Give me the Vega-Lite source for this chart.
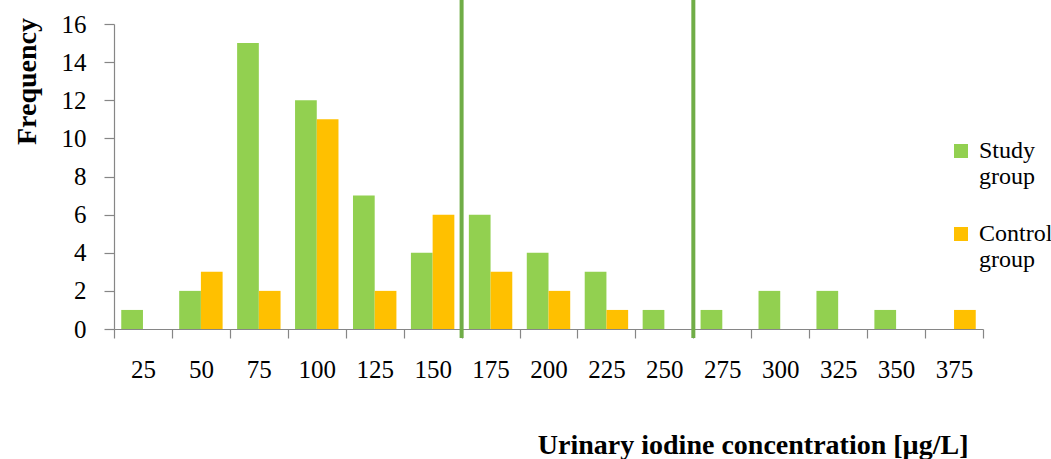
{
  "$schema": "https://vega.github.io/schema/vega-lite/v6.json",
  "width": 869,
  "height": 305,
  "autosize": {"type": "none"},
  "padding": {"left": 114, "top": 24, "right": 68, "bottom": 130},
  "config": {
    "view": {"stroke": null},
    "font": "Liberation Serif",
    "style": {
      "guide-label": {"font": "Liberation Serif", "fill": "#000000"},
      "guide-title": {"font": "Liberation Serif", "fill": "#000000"}
    },
    "axis": {
      "grid": false,
      "domainColor": "#868686",
      "tickColor": "#868686",
      "domainWidth": 1.2,
      "tickWidth": 1.2,
      "labelColor": "#000000",
      "titleColor": "#000000",
      "labelFont": "Liberation Serif",
      "titleFont": "Liberation Serif",
      "labelFontSize": 25,
      "titleFontSize": 28,
      "titleFontWeight": "bold",
      "labelOverlap": false
    }
  },
  "layer": [
    {
      "data": {
        "values": [
          {"conc": 25, "group": "Study group", "freq": 1},
          {"conc": 50, "group": "Study group", "freq": 2},
          {"conc": 75, "group": "Study group", "freq": 15},
          {"conc": 100, "group": "Study group", "freq": 12},
          {"conc": 125, "group": "Study group", "freq": 7},
          {"conc": 150, "group": "Study group", "freq": 4},
          {"conc": 175, "group": "Study group", "freq": 6},
          {"conc": 200, "group": "Study group", "freq": 4},
          {"conc": 225, "group": "Study group", "freq": 3},
          {"conc": 250, "group": "Study group", "freq": 1},
          {"conc": 275, "group": "Study group", "freq": 1},
          {"conc": 300, "group": "Study group", "freq": 2},
          {"conc": 325, "group": "Study group", "freq": 2},
          {"conc": 350, "group": "Study group", "freq": 1},
          {"conc": 375, "group": "Study group", "freq": 0},
          {"conc": 25, "group": "Control group", "freq": 0},
          {"conc": 50, "group": "Control group", "freq": 3},
          {"conc": 75, "group": "Control group", "freq": 2},
          {"conc": 100, "group": "Control group", "freq": 11},
          {"conc": 125, "group": "Control group", "freq": 2},
          {"conc": 150, "group": "Control group", "freq": 6},
          {"conc": 175, "group": "Control group", "freq": 3},
          {"conc": 200, "group": "Control group", "freq": 2},
          {"conc": 225, "group": "Control group", "freq": 1},
          {"conc": 250, "group": "Control group", "freq": 0},
          {"conc": 275, "group": "Control group", "freq": 0},
          {"conc": 300, "group": "Control group", "freq": 0},
          {"conc": 325, "group": "Control group", "freq": 0},
          {"conc": 350, "group": "Control group", "freq": 0},
          {"conc": 375, "group": "Control group", "freq": 1}
        ]
      },
      "mark": {"type": "bar"},
      "encoding": {
        "x": {
          "field": "conc", "type": "ordinal",
          "scale": {"paddingInner": 0, "paddingOuter": 0},
          "axis": {"title": "Urinary iodine concentration [µg/L]", "labelAngle": 0, "labelFont": "Liberation Serif", "tickBand": "extent", "tickSize": 9, "labelBaseline": "alphabetic", "labelPadding": 39, "titleAnchor": "end", "titleAlign": "right", "titleX": 854, "titleY": 124, "titleBaseline": "alphabetic"}
        },
        "xOffset": {
          "field": "group", "type": "nominal",
          "sort": ["Study group", "Control group"],
          "scale": {"paddingInner": 0, "paddingOuter": 0.334}
        },
        "y": {
          "field": "freq", "type": "quantitative",
          "scale": {"domain": [0, 16], "nice": false},
          "axis": {"title": "Frequency", "labelFont": "Liberation Serif", "values": [0, 2, 4, 6, 8, 10, 12, 14, 16], "tickCount": 9, "labelOverlap": false, "tickSize": 10, "labelPadding": 18, "titleAngle": -90, "titleX": -79, "titleY": 57, "titleAlign": "center", "titleBaseline": "alphabetic"}
        },
        "color": {
          "field": "group", "type": "nominal",
          "scale": {"domain": ["Study group", "Control group"], "range": ["#92D050", "#FFC000"]},
          "legend": {
            "title": null, "orient": "none", "legendX": 835, "legendY": 115,
            "symbolType": "square", "symbolSize": 196, "symbolStrokeWidth": 0,
            "labelFontSize": 24, "labelFont": "Liberation Serif", "labelColor": "#000000",
            "labelOffset": 6, "labelExpr": "split(datum.label, ' ')", "labelBaseline": "middle",
            "rowPadding": 33
          }
        }
      }
    },
    {
      "data": {
        "values": [
          {"conc": 150, "freq": 17.3, "freq2": -0.47},
          {"conc": 250, "freq": 17.3, "freq2": -0.47}
        ]
      },
      "mark": {"type": "rule", "color": "#70AD47", "strokeWidth": 4},
      "encoding": {
        "x": {
          "field": "conc", "type": "ordinal", "bandPosition": 1,
          "axis": {"title": "Urinary iodine concentration [µg/L]", "labelAngle": 0, "labelFont": "Liberation Serif", "tickBand": "extent", "tickSize": 9, "labelBaseline": "alphabetic", "labelPadding": 39, "titleAnchor": "end", "titleAlign": "right", "titleX": 854, "titleY": 124, "titleBaseline": "alphabetic"}
        },
        "y": {
          "field": "freq", "type": "quantitative",
          "scale": {"domain": [0, 16], "nice": false},
          "axis": {"title": "Frequency", "labelFont": "Liberation Serif", "values": [0, 2, 4, 6, 8, 10, 12, 14, 16], "tickCount": 9, "labelOverlap": false, "tickSize": 10, "labelPadding": 18, "titleAngle": -90, "titleX": -79, "titleY": 57, "titleAlign": "center", "titleBaseline": "alphabetic"}
        },
        "y2": {"field": "freq2"}
      }
    }
  ]
}
